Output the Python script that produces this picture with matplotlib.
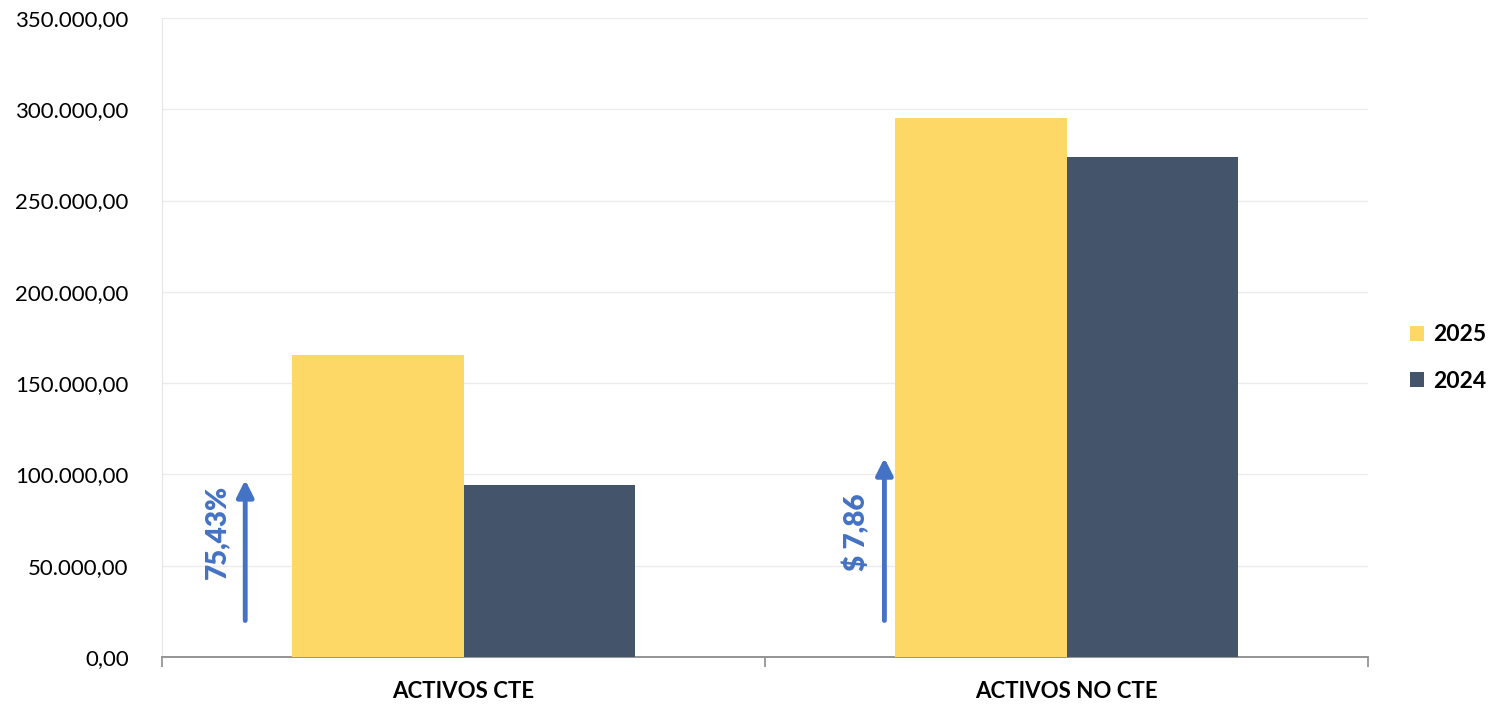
import numpy as np
import matplotlib.pyplot as plt
from matplotlib.ticker import FuncFormatter

# DATOS
categorias = ["ACTIVOS CTE", "ACTIVOS NO CTE"]
serie_2025 = [165400, 295200]
serie_2024 = [94200, 273800]
anios = ["2025", "2024"]
etiquetas_var = ["75,43%", "$ 7,86"]
flecha_base = [20000, 20000]
flecha_tope = [97000, 109000]

color_2025 = "#FDD866"
color_2024 = "#44546A"
color_flecha = "#4472C4"

plt.rcParams['font.family'] = ['Lato', 'DejaVu Sans']

fig = plt.figure(figsize=(14.9, 7.05), dpi=100)
ax = fig.add_axes([162 / 1490, 1 - 657 / 705, (1368 - 162) / 1490, (657 - 18) / 705])

x = np.arange(len(categorias))
ancho = 0.285
ax.bar(x - ancho / 2, serie_2025, ancho, color=color_2025, label=anios[0], zorder=3)
ax.bar(x + ancho / 2, serie_2024, ancho, color=color_2024, label=anios[1], zorder=3)

ax.set_xlim(-0.5, 1.5)
ax.set_ylim(0, 350000)
ax.set_yticks(np.arange(0, 350001, 50000))

def fmt(v, pos):
    s = f"{v:,.2f}"
    return s.replace(",", "X").replace(".", ",").replace("X", ".")

ax.yaxis.set_major_formatter(FuncFormatter(fmt))
ax.tick_params(axis='y', length=0, labelsize=16, pad=24, labelcolor="#000000")
ax.grid(axis='y', color="#EBEBEB", linewidth=1, zorder=0)

ax.set_xticks(x)
ax.set_xticklabels(categorias, fontsize=16, fontweight='bold')
ax.set_xticks([-0.5, 0.5, 1.5], minor=True)
ax.tick_params(axis='x', which='major', length=0, pad=17)
ax.tick_params(axis='x', which='minor', length=7, color="#8C8C8C", width=1.2)

for lado in ['top', 'right']:
    ax.spines[lado].set_visible(False)
ax.spines['left'].set_color("#E6E6E6")
ax.spines['bottom'].set_color("#8C8C8C")
ax.spines['bottom'].set_linewidth(1.3)

# FLECHAS DE VARIACION
desplaz = [-0.362, -0.302]
for i in range(len(categorias)):
    xa = x[i] + desplaz[i]
    ax.annotate("", xy=(xa, flecha_tope[i]), xytext=(xa, flecha_base[i]),
                arrowprops=dict(arrowstyle="-|>,head_width=0.5,head_length=1.0",
                                color=color_flecha, lw=3.5, shrinkA=0, shrinkB=0),
                zorder=4)
    ax.text(xa - 0.047, 68500, etiquetas_var[i], rotation=90, color=color_flecha,
            fontsize=20, fontweight='heavy', ha='center', va='center')

ax.legend(loc='center left', bbox_to_anchor=(1.018, 0.468), frameon=False,
          prop={'size': 16.5, 'weight': 'bold'}, handlelength=0.6, handleheight=0.6,
          labelspacing=1.1, handletextpad=0.4)

fig.savefig("out.png", dpi=100)
